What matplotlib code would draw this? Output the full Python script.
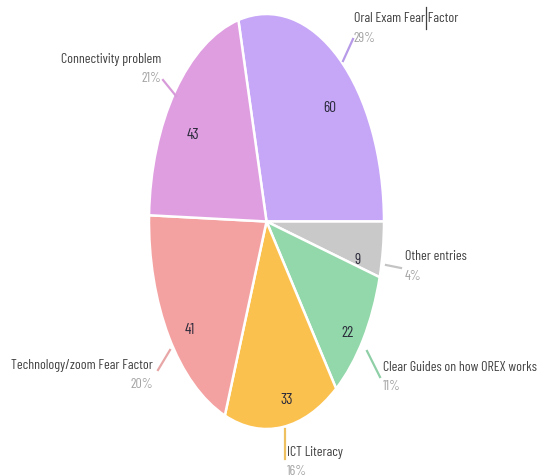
import matplotlib
matplotlib.use("Agg")
import matplotlib.pyplot as plt

categories = ["Oral Exam Fear Factor", "Other entries", "Clear Guides on how OREX works",
              "ICT Literacy", "Technology/zoom Fear Factor", "Connectivity problem"]
counts = [60, 9, 22, 33, 41, 43]
percent_labels = ["29%", "4%", "11%", "16%", "20%", "21%"]
colors = ["#C6A6F7", "#C9C9C9", "#92D8AA", "#FBC14F", "#F4A1A1", "#DE9EE0"]

plt.rcParams["font.family"] = ["Barlow Condensed", "DejaVu Sans"]

W, H = 548, 477
fig = plt.figure(figsize=(W / 100, H / 100), dpi=100)

# pie is drawn as a vertically stretched ellipse
cx, cy, rx, ry = 266.5, 222.5, 117.5, 207.5
ax = fig.add_axes([(cx - rx) / W, 1 - (cy + ry) / H, 2 * rx / W, 2 * ry / H])
total = sum(counts)
start = 360 * counts[0] / total
wedges, _ = ax.pie(counts, colors=colors, startangle=start, counterclock=False,
                   radius=1, wedgeprops=dict(edgecolor="white", linewidth=1.8))
ax.set_aspect("auto")
ax.set_xlim(-1, 1)
ax.set_ylim(-1, 1)
ax.axis("off")


def px(x, y):
    """pixel position (from top-left) -> figure fraction"""
    return x / W, 1 - y / H


# values inside the slices
value_pos = [(330, 108), (358, 260), (347, 333), (287, 400), (190, 330), (193, 135)]
for v, (x, y) in zip(counts, value_pos):
    fig.text(*px(x, y), str(v), ha="center", va="center", fontsize=11, color="#2a2a3a")

# outside labels: (name anchor, alignment, leader line)
label_spec = [
    ((354, 19), "left", [(343, 62), (353, 40)]),
    ((405, 257), "left", [(386, 266), (401, 269)]),
    ((383, 368), "left", [(367, 352), (380, 378)]),
    ((287, 453), "left", [(285, 430), (285, 460)]),
    ((153, 366), "right", [(170, 351), (158, 371)]),
    ((161, 60), "right", [(176, 97), (163, 81)]),
]
leader_colors = ["#B79AE8", "#C4C4C4", "#8FCFA6", "#EFC060", "#E8A6A6", "#D89BDA"]
for name, pct, (anchor, ha, line), lc in zip(categories, percent_labels, label_spec, leader_colors):
    x, y = anchor
    fig.text(*px(x, y), name, ha=ha, va="center", fontsize=10, color="#404040")
    fig.text(*px(x, y + 19), pct, ha=ha, va="center", fontsize=10, color="#a3a3a3")
    (x0, y0), (x1, y1) = line
    fig.add_artist(plt.Line2D([x0 / W, x1 / W], [1 - y0 / H, 1 - y1 / H],
                              color=lc, lw=1.6, transform=fig.transFigure))

# thin caret inside the first label
fig.add_artist(plt.Line2D([425.5 / W, 425.5 / W], [1 - 8 / H, 1 - 30 / H],
                          color="#404040", lw=0.9, transform=fig.transFigure))

fig.savefig("out.png", dpi=100, facecolor="white")
